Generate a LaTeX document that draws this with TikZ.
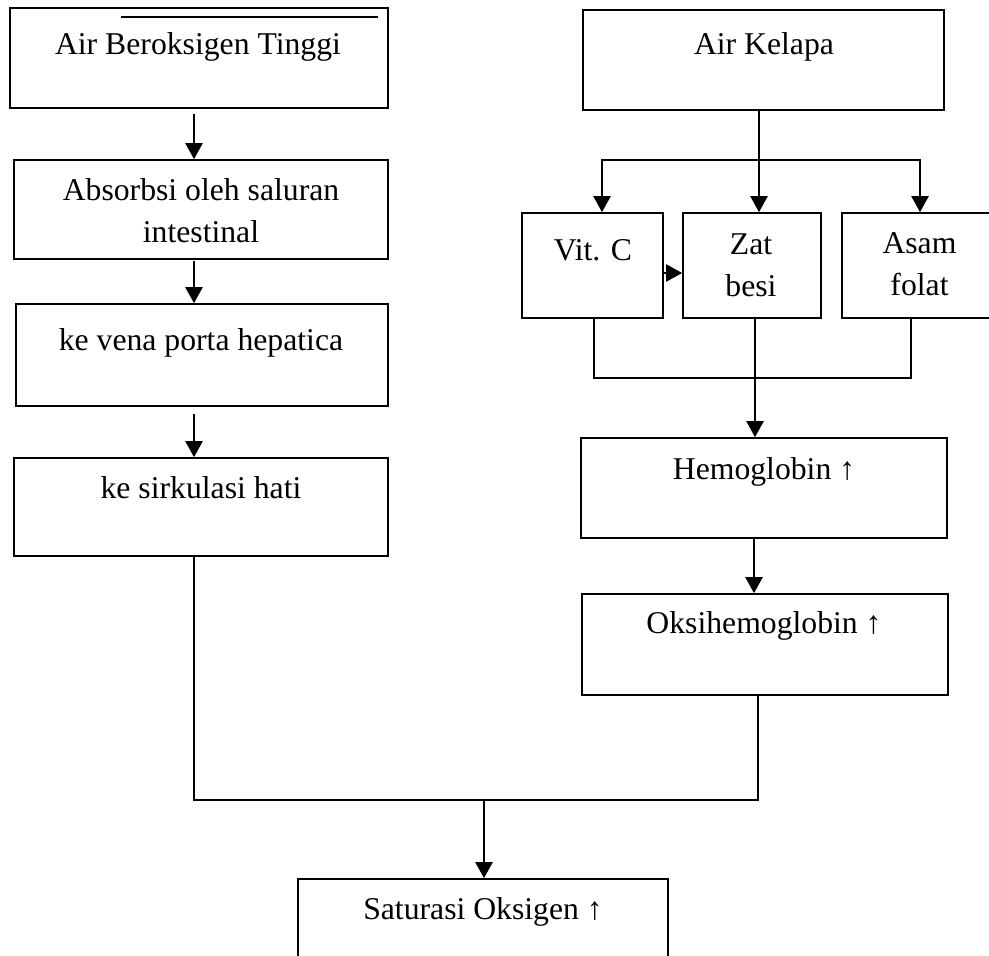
\documentclass[tikz,border=0pt]{standalone}
\usepackage{fontspec}
\setmainfont{Liberation Serif}
\usepackage{tikz}
\usetikzlibrary{calc}
\usetikzlibrary{positioning, arrows.meta}

\begin{document}
\begin{tikzpicture}[
    x=1pt, y=-1pt,
    box/.style={rectangle, draw=black, line width=1.6pt, inner sep=0pt},
    txt/.style={anchor=base, inner sep=0pt, align=center, font=\fontsize{31.7}{42}\selectfont},
    edge/.style={line width=2.2pt, black},
    arrow/.style={edge, -{Triangle[width=17pt, length=16pt]}},
]
    \useasboundingbox (0,0) rectangle (989,956);
    \clip (0,0) rectangle (989,956);

    % --- Left column ---
    \node[box, minimum width=378pt, minimum height=100pt] (oksigen)  at (199, 58)    {};
    \node[box, minimum width=374pt, minimum height=99pt]  (absorbsi) at (201, 209.5) {};
    \node[box, minimum width=372pt, minimum height=102pt] (vena)     at (202, 355)   {};
    \node[box, minimum width=374pt, minimum height=98pt]  (hati)     at (201, 507)   {};

    % (base of a two-line node = baseline of its last line)
    \node[txt] (oksigenT)  at (198, 54)  {Air Beroksigen Tinggi};
    \node[txt] (absorbsiT) at (201, 242) {Absorbsi oleh saluran\\intestinal};
    \node[txt] (venaT)     at (201, 350) {ke vena porta hepatica};
    \node[txt] (hatiT)     at (201, 498) {ke sirkulasi hati};

    % stray line over the first box
    \draw[line width=1.6pt] (121, 17) -- (378, 17);

    % --- Right column ---
    \node[box, minimum width=361pt, minimum height=100pt] (kelapa) at (763.5, 60)    {};
    \node[box, minimum width=141pt, minimum height=105pt] (vitc)   at (592.5, 265.5) {};
    \node[box, minimum width=138pt, minimum height=105pt] (zat)    at (752, 265.5)   {};
    \node[box, minimum width=156pt, minimum height=105pt] (asam)   at (920, 265.5)   {};
    \node[box, minimum width=366pt, minimum height=100pt] (hemo)   at (764, 488)     {};
    \node[box, minimum width=366pt, minimum height=101pt] (oksi)   at (765, 644.5)   {};

    \node[txt] (kelapaT) at (764, 54)    {Air Kelapa};
    \node[txt] (vitcT)   at (593, 260)   {Vit. C};
    \node[txt] (zatT)    at (751, 296)   {Zat\\besi};
    \node[txt] (asamT)   at (919.5, 295) {Asam\\folat};
    \node[txt] (hemoT)   at (764, 479)   {Hemoglobin ↑};
    \node[txt] (oksiT)   at (764, 633)   {Oksihemoglobin ↑};

    % --- Bottom ---
    \node[box, minimum width=370pt, minimum height=110pt] (saturasi) at (483, 934) {};
    \node[txt] (saturasiT) at (483, 919) {Saturasi Oksigen ↑};

    \coordinate (split)   at (759, 160);
    \coordinate (collect) at (755, 378);
    \coordinate (mergeR)  at (758, 800);
    \coordinate (merge)   at (484, 800);

    % --- Left arrows ---
    \draw[arrow] ([xshift=-5pt, yshift=-5pt]oksigen.south) -- ([xshift=-5pt]oksigen.south |- absorbsi.north);
    \draw[arrow] ([xshift=-7pt, yshift=-1pt]absorbsi.south) -- ([xshift=-7pt]absorbsi.south |- vena.north);
    \draw[arrow] ([xshift=-8pt, yshift=-7pt]vena.south) -- ([xshift=-8pt]vena.south |- hati.north);

    % --- Split below Air Kelapa ---
    \draw[edge]  (kelapa.south -| split) -- (split);
    \draw[arrow] (split) -- (split |- zat.north);
    \draw[arrow] (split) -| ([xshift=9.5pt]vitc.north);
    \draw[arrow] (split) -| (asam.north);
    \draw[arrow] ([yshift=-7.5pt]vitc.east) -- ([yshift=-7.5pt]zat.west);

    % --- Collect into Hemoglobin ---
    \draw[edge]  ([xshift=1.5pt]vitc.south) |- (collect) -| ([xshift=-9pt]asam.south);
    \draw[arrow] (zat.south -| collect) -- (collect |- hemo.north);
    \draw[arrow] ([xshift=-10pt]hemo.south) -- ([xshift=-10pt]hemo.south |- oksi.north);

    % --- Merge into Saturasi ---
    \draw[edge]  ([xshift=-7pt]hati.south) |- (mergeR) -- (mergeR |- oksi.south);
    \draw[arrow] (merge) -- (merge |- saturasi.north);

\end{tikzpicture}
\end{document}
